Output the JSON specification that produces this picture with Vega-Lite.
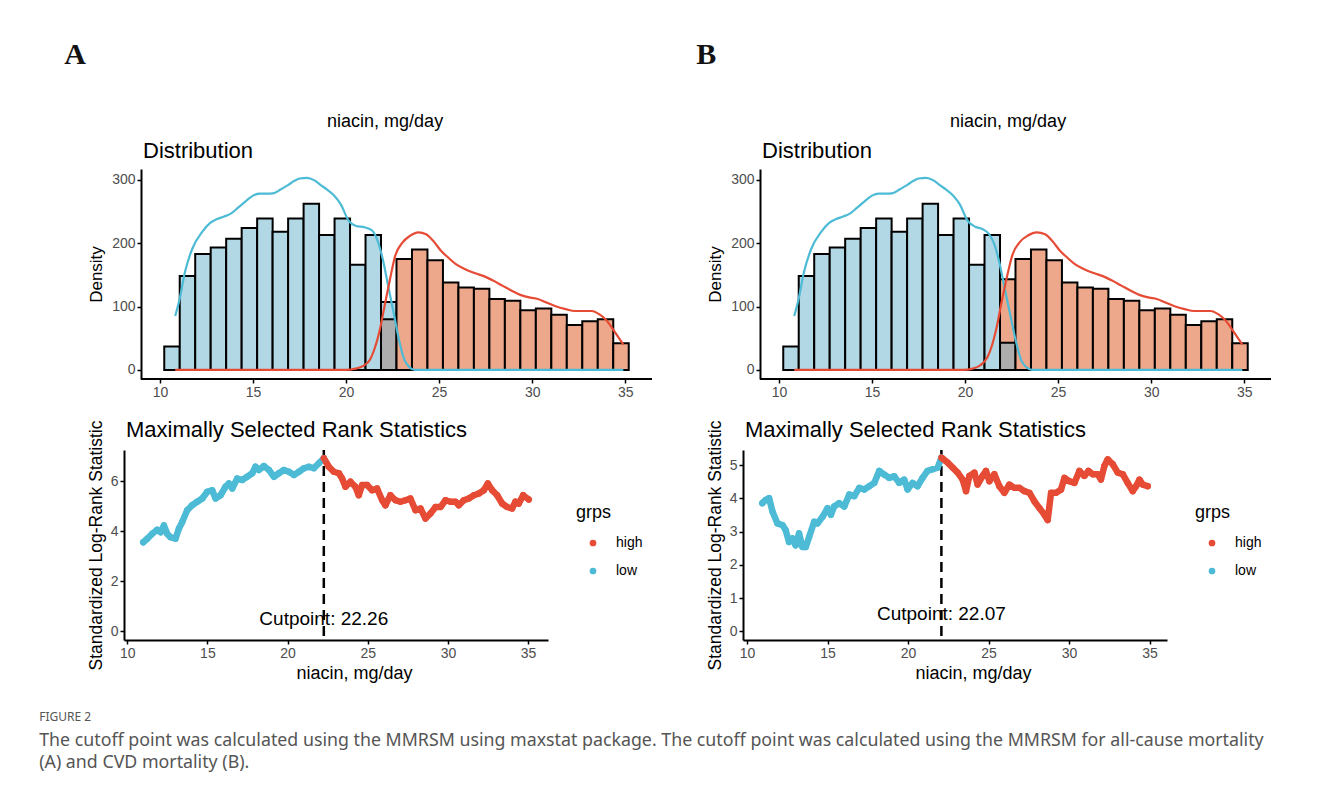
{
  "$schema": "https://vega.github.io/schema/vega-lite/v6.json",
  "background": "white",
  "padding": {"left": 39, "top": 40, "right": 10, "bottom": 10},
  "config": {
    "font": "Liberation Sans",
    "view": {"stroke": null},
    "axis": {"grid": false, "domainColor": "black", "domainWidth": 2, "tickColor": "black", "tickWidth": 1.5, "tickSize": 4, "labelColor": "#4D4D4D", "labelFontSize": 14, "labelFont": "Liberation Sans", "titleFont": "Liberation Sans", "titleFontWeight": "normal", "titleColor": "black", "titleFontSize": 17, "labelPadding": 2, "labelOverlap": false},
    "title": {"font": "Liberation Sans", "fontWeight": "normal", "color": "black"},
    "legend": {"titleFont": "Liberation Sans", "labelFont": "Liberation Sans"}
  },
  "datasets": {
    "histA": [
      {"x0": 10.23, "x1": 11.062, "n": 37, "part": "low"},
      {"x0": 11.062, "x1": 11.894, "n": 148, "part": "low"},
      {"x0": 11.894, "x1": 12.726, "n": 183, "part": "low"},
      {"x0": 12.726, "x1": 13.558, "n": 193, "part": "low"},
      {"x0": 13.558, "x1": 14.39, "n": 207, "part": "low"},
      {"x0": 14.39, "x1": 15.222, "n": 224, "part": "low"},
      {"x0": 15.222, "x1": 16.054, "n": 239, "part": "low"},
      {"x0": 16.054, "x1": 16.886, "n": 218, "part": "low"},
      {"x0": 16.886, "x1": 17.718, "n": 239, "part": "low"},
      {"x0": 17.718, "x1": 18.55, "n": 262, "part": "low"},
      {"x0": 18.55, "x1": 19.382, "n": 213, "part": "low"},
      {"x0": 19.382, "x1": 20.214, "n": 239, "part": "low"},
      {"x0": 20.214, "x1": 21.046, "n": 166, "part": "low"},
      {"x0": 21.046, "x1": 21.878, "n": 213, "part": "low"},
      {"x0": 21.878, "x1": 22.71, "n": 107, "part": "low"},
      {"x0": 21.878, "x1": 22.71, "n": 80, "part": "both"},
      {"x0": 22.71, "x1": 23.542, "n": 175, "part": "high"},
      {"x0": 23.542, "x1": 24.374, "n": 190, "part": "high"},
      {"x0": 24.374, "x1": 25.206, "n": 173, "part": "high"},
      {"x0": 25.206, "x1": 26.038, "n": 138, "part": "high"},
      {"x0": 26.038, "x1": 26.87, "n": 130, "part": "high"},
      {"x0": 26.87, "x1": 27.702, "n": 128, "part": "high"},
      {"x0": 27.702, "x1": 28.534, "n": 112, "part": "high"},
      {"x0": 28.534, "x1": 29.366, "n": 109, "part": "high"},
      {"x0": 29.366, "x1": 30.198, "n": 94, "part": "high"},
      {"x0": 30.198, "x1": 31.03, "n": 97, "part": "high"},
      {"x0": 31.03, "x1": 31.862, "n": 87, "part": "high"},
      {"x0": 31.862, "x1": 32.694, "n": 71, "part": "high"},
      {"x0": 32.694, "x1": 33.526, "n": 77, "part": "high"},
      {"x0": 33.526, "x1": 34.358, "n": 80, "part": "high"},
      {"x0": 34.358, "x1": 35.19, "n": 42, "part": "high"}
    ],
    "histB": [
      {"x0": 10.23, "x1": 11.062, "n": 37, "part": "low"},
      {"x0": 11.062, "x1": 11.894, "n": 148, "part": "low"},
      {"x0": 11.894, "x1": 12.726, "n": 183, "part": "low"},
      {"x0": 12.726, "x1": 13.558, "n": 193, "part": "low"},
      {"x0": 13.558, "x1": 14.39, "n": 207, "part": "low"},
      {"x0": 14.39, "x1": 15.222, "n": 224, "part": "low"},
      {"x0": 15.222, "x1": 16.054, "n": 239, "part": "low"},
      {"x0": 16.054, "x1": 16.886, "n": 218, "part": "low"},
      {"x0": 16.886, "x1": 17.718, "n": 239, "part": "low"},
      {"x0": 17.718, "x1": 18.55, "n": 262, "part": "low"},
      {"x0": 18.55, "x1": 19.382, "n": 213, "part": "low"},
      {"x0": 19.382, "x1": 20.214, "n": 239, "part": "low"},
      {"x0": 20.214, "x1": 21.046, "n": 166, "part": "low"},
      {"x0": 21.046, "x1": 21.878, "n": 213, "part": "low"},
      {"x0": 21.878, "x1": 22.71, "n": 143, "part": "high"},
      {"x0": 21.878, "x1": 22.71, "n": 43, "part": "both"},
      {"x0": 22.71, "x1": 23.542, "n": 175, "part": "high"},
      {"x0": 23.542, "x1": 24.374, "n": 190, "part": "high"},
      {"x0": 24.374, "x1": 25.206, "n": 173, "part": "high"},
      {"x0": 25.206, "x1": 26.038, "n": 138, "part": "high"},
      {"x0": 26.038, "x1": 26.87, "n": 130, "part": "high"},
      {"x0": 26.87, "x1": 27.702, "n": 128, "part": "high"},
      {"x0": 27.702, "x1": 28.534, "n": 112, "part": "high"},
      {"x0": 28.534, "x1": 29.366, "n": 109, "part": "high"},
      {"x0": 29.366, "x1": 30.198, "n": 94, "part": "high"},
      {"x0": 30.198, "x1": 31.03, "n": 97, "part": "high"},
      {"x0": 31.03, "x1": 31.862, "n": 87, "part": "high"},
      {"x0": 31.862, "x1": 32.694, "n": 71, "part": "high"},
      {"x0": 32.694, "x1": 33.526, "n": 77, "part": "high"},
      {"x0": 33.526, "x1": 34.358, "n": 80, "part": "high"},
      {"x0": 34.358, "x1": 35.19, "n": 42, "part": "high"}
    ],
    "densA": [
      {"x": 10.82, "d": 85, "grp": "low"}, {"x": 11.05, "d": 111, "grp": "low"}, {"x": 11.34, "d": 154, "grp": "low"}, {"x": 11.72, "d": 190, "grp": "low"}, {"x": 12.3, "d": 219, "grp": "low"}, {"x": 12.7, "d": 232, "grp": "low"}, {"x": 13.07, "d": 238, "grp": "low"}, {"x": 13.45, "d": 242, "grp": "low"}, {"x": 13.83, "d": 247, "grp": "low"}, {"x": 14.2, "d": 256, "grp": "low"}, {"x": 14.6, "d": 266, "grp": "low"}, {"x": 15.0, "d": 275, "grp": "low"}, {"x": 15.36, "d": 278, "grp": "low"}, {"x": 15.75, "d": 278, "grp": "low"}, {"x": 16.13, "d": 279, "grp": "low"}, {"x": 16.5, "d": 285, "grp": "low"}, {"x": 16.9, "d": 292, "grp": "low"}, {"x": 17.2, "d": 298, "grp": "low"}, {"x": 17.5, "d": 302, "grp": "low"}, {"x": 17.9, "d": 303, "grp": "low"}, {"x": 18.3, "d": 299, "grp": "low"}, {"x": 18.62, "d": 292, "grp": "low"}, {"x": 19.0, "d": 284, "grp": "low"}, {"x": 19.39, "d": 274, "grp": "low"}, {"x": 19.7, "d": 262, "grp": "low"}, {"x": 20.15, "d": 235, "grp": "low"}, {"x": 20.54, "d": 227, "grp": "low"}, {"x": 21.0, "d": 225, "grp": "low"}, {"x": 21.4, "d": 220, "grp": "low"}, {"x": 21.69, "d": 204, "grp": "low"}, {"x": 21.97, "d": 175, "grp": "low"}, {"x": 22.26, "d": 133, "grp": "low"}, {"x": 22.55, "d": 91, "grp": "low"}, {"x": 22.84, "d": 48, "grp": "low"}, {"x": 23.12, "d": 17, "grp": "low"}, {"x": 23.41, "d": 4, "grp": "low"}, {"x": 23.7, "d": 0, "grp": "low"}, {"x": 34.9, "d": 0, "grp": "low"},
      {"x": 10.82, "d": 0, "grp": "high"}, {"x": 20.0, "d": 0, "grp": "high"}, {"x": 20.5, "d": 2, "grp": "high"}, {"x": 20.9, "d": 6, "grp": "high"}, {"x": 21.3, "d": 17, "grp": "high"}, {"x": 21.55, "d": 35, "grp": "high"}, {"x": 21.78, "d": 59, "grp": "high"}, {"x": 22.07, "d": 101, "grp": "high"}, {"x": 22.36, "d": 143, "grp": "high"}, {"x": 22.64, "d": 180, "grp": "high"}, {"x": 23.03, "d": 201, "grp": "high"}, {"x": 23.41, "d": 211, "grp": "high"}, {"x": 23.89, "d": 217, "grp": "high"}, {"x": 24.3, "d": 214, "grp": "high"}, {"x": 24.7, "d": 203, "grp": "high"}, {"x": 25.1, "d": 188, "grp": "high"}, {"x": 25.5, "d": 177, "grp": "high"}, {"x": 25.9, "d": 167, "grp": "high"}, {"x": 26.4, "d": 159, "grp": "high"}, {"x": 26.9, "d": 153, "grp": "high"}, {"x": 27.4, "d": 148, "grp": "high"}, {"x": 27.9, "d": 141, "grp": "high"}, {"x": 28.4, "d": 133, "grp": "high"}, {"x": 28.9, "d": 125, "grp": "high"}, {"x": 29.4, "d": 118, "grp": "high"}, {"x": 29.9, "d": 114, "grp": "high"}, {"x": 30.3, "d": 112, "grp": "high"}, {"x": 30.8, "d": 106, "grp": "high"}, {"x": 31.3, "d": 100, "grp": "high"}, {"x": 31.8, "d": 96, "grp": "high"}, {"x": 32.3, "d": 93, "grp": "high"}, {"x": 32.8, "d": 93, "grp": "high"}, {"x": 33.2, "d": 93, "grp": "high"}, {"x": 33.6, "d": 88, "grp": "high"}, {"x": 34.0, "d": 78, "grp": "high"}, {"x": 34.3, "d": 66, "grp": "high"}, {"x": 34.6, "d": 53, "grp": "high"}, {"x": 34.9, "d": 40, "grp": "high"}
    ],
    "densB": [
      {"x": 10.82, "d": 85, "grp": "low"}, {"x": 11.05, "d": 111, "grp": "low"}, {"x": 11.34, "d": 154, "grp": "low"}, {"x": 11.72, "d": 190, "grp": "low"}, {"x": 12.3, "d": 219, "grp": "low"}, {"x": 12.7, "d": 232, "grp": "low"}, {"x": 13.07, "d": 238, "grp": "low"}, {"x": 13.45, "d": 242, "grp": "low"}, {"x": 13.83, "d": 247, "grp": "low"}, {"x": 14.2, "d": 256, "grp": "low"}, {"x": 14.6, "d": 266, "grp": "low"}, {"x": 15.0, "d": 275, "grp": "low"}, {"x": 15.36, "d": 278, "grp": "low"}, {"x": 15.75, "d": 278, "grp": "low"}, {"x": 16.13, "d": 279, "grp": "low"}, {"x": 16.5, "d": 285, "grp": "low"}, {"x": 16.9, "d": 292, "grp": "low"}, {"x": 17.2, "d": 298, "grp": "low"}, {"x": 17.5, "d": 302, "grp": "low"}, {"x": 17.9, "d": 303, "grp": "low"}, {"x": 18.3, "d": 299, "grp": "low"}, {"x": 18.62, "d": 292, "grp": "low"}, {"x": 19.0, "d": 284, "grp": "low"}, {"x": 19.39, "d": 274, "grp": "low"}, {"x": 19.7, "d": 262, "grp": "low"}, {"x": 20.15, "d": 235, "grp": "low"}, {"x": 20.54, "d": 226, "grp": "low"}, {"x": 20.95, "d": 222, "grp": "low"}, {"x": 21.3, "d": 214, "grp": "low"}, {"x": 21.59, "d": 197, "grp": "low"}, {"x": 21.87, "d": 166, "grp": "low"}, {"x": 22.16, "d": 124, "grp": "low"}, {"x": 22.45, "d": 84, "grp": "low"}, {"x": 22.74, "d": 44, "grp": "low"}, {"x": 23.02, "d": 15, "grp": "low"}, {"x": 23.31, "d": 4, "grp": "low"}, {"x": 23.6, "d": 0, "grp": "low"}, {"x": 34.9, "d": 0, "grp": "low"},
      {"x": 10.82, "d": 0, "grp": "high"}, {"x": 19.9, "d": 0, "grp": "high"}, {"x": 20.4, "d": 2, "grp": "high"}, {"x": 20.8, "d": 7, "grp": "high"}, {"x": 21.2, "d": 20, "grp": "high"}, {"x": 21.45, "d": 39, "grp": "high"}, {"x": 21.68, "d": 65, "grp": "high"}, {"x": 21.97, "d": 108, "grp": "high"}, {"x": 22.26, "d": 148, "grp": "high"}, {"x": 22.55, "d": 182, "grp": "high"}, {"x": 22.95, "d": 202, "grp": "high"}, {"x": 23.38, "d": 212, "grp": "high"}, {"x": 23.85, "d": 217, "grp": "high"}, {"x": 24.3, "d": 214, "grp": "high"}, {"x": 24.7, "d": 203, "grp": "high"}, {"x": 25.1, "d": 188, "grp": "high"}, {"x": 25.5, "d": 177, "grp": "high"}, {"x": 25.9, "d": 167, "grp": "high"}, {"x": 26.4, "d": 159, "grp": "high"}, {"x": 26.9, "d": 153, "grp": "high"}, {"x": 27.4, "d": 148, "grp": "high"}, {"x": 27.9, "d": 141, "grp": "high"}, {"x": 28.4, "d": 133, "grp": "high"}, {"x": 28.9, "d": 125, "grp": "high"}, {"x": 29.4, "d": 118, "grp": "high"}, {"x": 29.9, "d": 114, "grp": "high"}, {"x": 30.3, "d": 112, "grp": "high"}, {"x": 30.8, "d": 106, "grp": "high"}, {"x": 31.3, "d": 100, "grp": "high"}, {"x": 31.8, "d": 96, "grp": "high"}, {"x": 32.3, "d": 93, "grp": "high"}, {"x": 32.8, "d": 93, "grp": "high"}, {"x": 33.2, "d": 93, "grp": "high"}, {"x": 33.6, "d": 88, "grp": "high"}, {"x": 34.0, "d": 78, "grp": "high"}, {"x": 34.3, "d": 66, "grp": "high"}, {"x": 34.6, "d": 53, "grp": "high"}, {"x": 34.9, "d": 40, "grp": "high"}
    ],
    "lineA": [
      {"x": 11.0, "y": 3.56, "grps": "low"}, {"x": 11.25, "y": 3.7, "grps": "low"}, {"x": 11.56, "y": 3.9, "grps": "low"}, {"x": 11.87, "y": 4.06, "grps": "low"}, {"x": 12.08, "y": 3.96, "grps": "low"}, {"x": 12.29, "y": 4.23, "grps": "low"}, {"x": 12.49, "y": 3.9, "grps": "low"}, {"x": 12.7, "y": 3.76, "grps": "low"}, {"x": 13.01, "y": 3.7, "grps": "low"}, {"x": 13.22, "y": 4.1, "grps": "low"}, {"x": 13.43, "y": 4.37, "grps": "low"}, {"x": 13.74, "y": 4.84, "grps": "low"}, {"x": 14.05, "y": 5.04, "grps": "low"}, {"x": 14.37, "y": 5.18, "grps": "low"}, {"x": 14.68, "y": 5.31, "grps": "low"}, {"x": 14.99, "y": 5.58, "grps": "low"}, {"x": 15.3, "y": 5.64, "grps": "low"}, {"x": 15.51, "y": 5.31, "grps": "low"}, {"x": 15.82, "y": 5.44, "grps": "low"}, {"x": 16.13, "y": 5.78, "grps": "low"}, {"x": 16.34, "y": 5.91, "grps": "low"}, {"x": 16.55, "y": 5.71, "grps": "low"}, {"x": 16.86, "y": 6.11, "grps": "low"}, {"x": 17.17, "y": 6.05, "grps": "low"}, {"x": 17.48, "y": 6.18, "grps": "low"}, {"x": 17.8, "y": 6.32, "grps": "low"}, {"x": 18.0, "y": 6.58, "grps": "low"}, {"x": 18.21, "y": 6.45, "grps": "low"}, {"x": 18.52, "y": 6.61, "grps": "low"}, {"x": 18.84, "y": 6.45, "grps": "low"}, {"x": 19.15, "y": 6.18, "grps": "low"}, {"x": 19.46, "y": 6.32, "grps": "low"}, {"x": 19.77, "y": 6.45, "grps": "low"}, {"x": 20.08, "y": 6.38, "grps": "low"}, {"x": 20.4, "y": 6.25, "grps": "low"}, {"x": 20.71, "y": 6.38, "grps": "low"}, {"x": 21.02, "y": 6.52, "grps": "low"}, {"x": 21.33, "y": 6.58, "grps": "low"}, {"x": 21.64, "y": 6.52, "grps": "low"}, {"x": 21.95, "y": 6.72, "grps": "low"}, {"x": 22.26, "y": 6.92, "grps": "low"},
      {"x": 22.26, "y": 6.92, "grps": "high"}, {"x": 22.57, "y": 6.58, "grps": "high"}, {"x": 22.88, "y": 6.38, "grps": "high"}, {"x": 23.2, "y": 6.32, "grps": "high"}, {"x": 23.4, "y": 6.11, "grps": "high"}, {"x": 23.61, "y": 5.78, "grps": "high"}, {"x": 23.92, "y": 5.98, "grps": "high"}, {"x": 24.23, "y": 5.78, "grps": "high"}, {"x": 24.44, "y": 5.44, "grps": "high"}, {"x": 24.65, "y": 5.85, "grps": "high"}, {"x": 24.96, "y": 5.85, "grps": "high"}, {"x": 25.27, "y": 5.64, "grps": "high"}, {"x": 25.58, "y": 5.71, "grps": "high"}, {"x": 25.9, "y": 5.24, "grps": "high"}, {"x": 26.1, "y": 5.04, "grps": "high"}, {"x": 26.41, "y": 5.44, "grps": "high"}, {"x": 26.73, "y": 5.24, "grps": "high"}, {"x": 27.04, "y": 5.18, "grps": "high"}, {"x": 27.35, "y": 5.24, "grps": "high"}, {"x": 27.66, "y": 5.31, "grps": "high"}, {"x": 27.98, "y": 4.84, "grps": "high"}, {"x": 28.29, "y": 4.91, "grps": "high"}, {"x": 28.6, "y": 4.51, "grps": "high"}, {"x": 28.91, "y": 4.71, "grps": "high"}, {"x": 29.23, "y": 4.97, "grps": "high"}, {"x": 29.54, "y": 4.97, "grps": "high"}, {"x": 29.85, "y": 5.24, "grps": "high"}, {"x": 30.16, "y": 5.18, "grps": "high"}, {"x": 30.47, "y": 5.18, "grps": "high"}, {"x": 30.68, "y": 5.04, "grps": "high"}, {"x": 30.99, "y": 5.24, "grps": "high"}, {"x": 31.3, "y": 5.31, "grps": "high"}, {"x": 31.62, "y": 5.44, "grps": "high"}, {"x": 31.93, "y": 5.51, "grps": "high"}, {"x": 32.24, "y": 5.64, "grps": "high"}, {"x": 32.49, "y": 5.91, "grps": "high"}, {"x": 32.76, "y": 5.64, "grps": "high"}, {"x": 33.07, "y": 5.44, "grps": "high"}, {"x": 33.38, "y": 5.11, "grps": "high"}, {"x": 33.69, "y": 4.97, "grps": "high"}, {"x": 34.0, "y": 4.91, "grps": "high"}, {"x": 34.21, "y": 5.18, "grps": "high"}, {"x": 34.42, "y": 5.11, "grps": "high"}, {"x": 34.69, "y": 5.44, "grps": "high"}, {"x": 35.04, "y": 5.27, "grps": "high"}
    ],
    "lineB": [
      {"x": 10.95, "y": 3.86, "grps": "low"}, {"x": 11.16, "y": 3.96, "grps": "low"}, {"x": 11.37, "y": 4.01, "grps": "low"}, {"x": 11.58, "y": 3.61, "grps": "low"}, {"x": 11.89, "y": 3.25, "grps": "low"}, {"x": 12.2, "y": 3.2, "grps": "low"}, {"x": 12.4, "y": 3.05, "grps": "low"}, {"x": 12.61, "y": 2.69, "grps": "low"}, {"x": 12.82, "y": 2.8, "grps": "low"}, {"x": 13.02, "y": 2.59, "grps": "low"}, {"x": 13.23, "y": 2.95, "grps": "low"}, {"x": 13.44, "y": 2.54, "grps": "low"}, {"x": 13.65, "y": 2.54, "grps": "low"}, {"x": 13.86, "y": 2.85, "grps": "low"}, {"x": 14.17, "y": 3.3, "grps": "low"}, {"x": 14.37, "y": 3.25, "grps": "low"}, {"x": 14.69, "y": 3.45, "grps": "low"}, {"x": 15.0, "y": 3.71, "grps": "low"}, {"x": 15.21, "y": 3.51, "grps": "low"}, {"x": 15.41, "y": 3.76, "grps": "low"}, {"x": 15.72, "y": 3.86, "grps": "low"}, {"x": 16.04, "y": 3.76, "grps": "low"}, {"x": 16.35, "y": 4.12, "grps": "low"}, {"x": 16.66, "y": 4.07, "grps": "low"}, {"x": 16.97, "y": 4.32, "grps": "low"}, {"x": 17.28, "y": 4.27, "grps": "low"}, {"x": 17.59, "y": 4.37, "grps": "low"}, {"x": 17.9, "y": 4.47, "grps": "low"}, {"x": 18.21, "y": 4.83, "grps": "low"}, {"x": 18.52, "y": 4.72, "grps": "low"}, {"x": 18.83, "y": 4.62, "grps": "low"}, {"x": 19.14, "y": 4.67, "grps": "low"}, {"x": 19.45, "y": 4.47, "grps": "low"}, {"x": 19.76, "y": 4.57, "grps": "low"}, {"x": 19.97, "y": 4.27, "grps": "low"}, {"x": 20.28, "y": 4.47, "grps": "low"}, {"x": 20.59, "y": 4.37, "grps": "low"}, {"x": 20.9, "y": 4.62, "grps": "low"}, {"x": 21.21, "y": 4.83, "grps": "low"}, {"x": 21.53, "y": 4.88, "grps": "low"}, {"x": 21.84, "y": 4.93, "grps": "low"}, {"x": 22.07, "y": 5.23, "grps": "low"},
      {"x": 22.07, "y": 5.23, "grps": "high"}, {"x": 22.15, "y": 5.2, "grps": "high"}, {"x": 22.46, "y": 5.08, "grps": "high"}, {"x": 22.77, "y": 4.93, "grps": "high"}, {"x": 23.08, "y": 4.78, "grps": "high"}, {"x": 23.39, "y": 4.57, "grps": "high"}, {"x": 23.6, "y": 4.22, "grps": "high"}, {"x": 23.81, "y": 4.68, "grps": "high"}, {"x": 24.12, "y": 4.78, "grps": "high"}, {"x": 24.32, "y": 4.42, "grps": "high"}, {"x": 24.63, "y": 4.68, "grps": "high"}, {"x": 24.84, "y": 4.83, "grps": "high"}, {"x": 25.05, "y": 4.52, "grps": "high"}, {"x": 25.36, "y": 4.73, "grps": "high"}, {"x": 25.67, "y": 4.37, "grps": "high"}, {"x": 25.98, "y": 4.17, "grps": "high"}, {"x": 26.29, "y": 4.42, "grps": "high"}, {"x": 26.6, "y": 4.32, "grps": "high"}, {"x": 26.92, "y": 4.32, "grps": "high"}, {"x": 27.23, "y": 4.22, "grps": "high"}, {"x": 27.54, "y": 4.17, "grps": "high"}, {"x": 27.85, "y": 3.91, "grps": "high"}, {"x": 28.16, "y": 3.71, "grps": "high"}, {"x": 28.47, "y": 3.51, "grps": "high"}, {"x": 28.67, "y": 3.35, "grps": "high"}, {"x": 28.88, "y": 4.17, "grps": "high"}, {"x": 29.19, "y": 4.17, "grps": "high"}, {"x": 29.5, "y": 4.27, "grps": "high"}, {"x": 29.71, "y": 4.62, "grps": "high"}, {"x": 30.02, "y": 4.52, "grps": "high"}, {"x": 30.33, "y": 4.47, "grps": "high"}, {"x": 30.64, "y": 4.83, "grps": "high"}, {"x": 30.95, "y": 4.68, "grps": "high"}, {"x": 31.2, "y": 4.83, "grps": "high"}, {"x": 31.47, "y": 4.73, "grps": "high"}, {"x": 31.78, "y": 4.73, "grps": "high"}, {"x": 31.98, "y": 4.57, "grps": "high"}, {"x": 32.19, "y": 4.98, "grps": "high"}, {"x": 32.4, "y": 5.18, "grps": "high"}, {"x": 32.71, "y": 5.03, "grps": "high"}, {"x": 33.02, "y": 4.78, "grps": "high"}, {"x": 33.33, "y": 4.73, "grps": "high"}, {"x": 33.64, "y": 4.47, "grps": "high"}, {"x": 33.95, "y": 4.22, "grps": "high"}, {"x": 34.16, "y": 4.37, "grps": "high"}, {"x": 34.37, "y": 4.57, "grps": "high"}, {"x": 34.57, "y": 4.42, "grps": "high"}, {"x": 34.88, "y": 4.37, "grps": "high"}
    ],
    "cutA": [{"x": 22.26, "y": 0.5, "label": "Cutpoint: 22.26"}],
    "cutB": [{"x": 22.07, "y": 0.52, "label": "Cutpoint: 22.07"}],
    "axisline": [{"from": 8.98, "to": 36.44, "at": -14.3}]
  },
  "title": {
    "text": "FIGURE 2",
    "subtitle": ["The cutoff point was calculated using the MMRSM using maxstat package. The cutoff point was calculated using the MMRSM for all-cause mortality", "(A) and CVD mortality (B)."],
    "orient": "bottom", "anchor": "start", "frame": "bounds", "dx": -25, "offset": 30,
    "font": "Noto Sans", "fontSize": 12, "color": "#555555", "fontWeight": "normal",
    "subtitleFont": "Noto Sans", "subtitleFontSize": 17.8, "subtitleColor": "#555555", "subtitlePadding": 8, "subtitleLineHeight": 22
  },
  "spacing": 43,
  "resolve": {"scale": {"fill": "independent", "stroke": "independent"}, "legend": {"fill": "independent", "stroke": "independent"}},
  "hconcat": [
    {
      "title": {"text": "A", "anchor": "start", "font": "Liberation Serif", "fontSize": 30, "fontWeight": "bold", "color": "#111111", "dx": -23, "offset": 43},
      "resolve": {"scale": {"fill": "independent", "stroke": "independent"}, "legend": {"fill": "independent", "stroke": "independent"}},
      "vconcat": [
        {
          "title": {"text": "niacin, mg/day", "anchor": "middle", "fontSize": 18, "offset": 9, "dx": 15},
          "spacing": 20,
          "resolve": {"scale": {"fill": "independent", "stroke": "independent"}, "legend": {"fill": "independent", "stroke": "independent"}},
          "vconcat": [
            {
              "width": 528, "height": 210,
              "title": {"text": "Distribution", "anchor": "start", "frame": "group", "dx": 19, "fontSize": 22, "offset": 6},
              "resolve": {"scale": {"fill": "independent", "stroke": "independent"}},
              "layer": [
                {"data": {"name": "histA"}, "mark": {"type": "bar", "stroke": "black", "strokeWidth": 2},
                  "encoding": {
                    "x": {"field": "x0", "type": "quantitative", "scale": {"domain": [8.067, 36.44], "nice": false, "zero": false}, "axis": {"title": null, "values": [10, 15, 20, 25, 30, 35], "domain": false}},
                    "x2": {"field": "x1"},
                    "y": {"field": "n", "type": "quantitative", "scale": {"domain": [-14.3, 317], "nice": false, "zero": false}, "axis": {"title": "Density", "values": [0, 100, 200, 300], "titlePadding": 6, "offset": -17}},
                    "y2": {"datum": 0},
                    "fill": {"field": "part", "type": "nominal", "scale": {"domain": ["low", "high", "both"], "range": ["#B3D8E5", "#EDA78B", "#ADADAD"]}, "legend": null}
                  }},
                {"data": {"name": "densA"}, "mark": {"type": "line", "strokeWidth": 2.2, "interpolate": "monotone"},
                  "encoding": {
                    "x": {"field": "x", "type": "quantitative", "axis": {"title": null, "values": [10, 15, 20, 25, 30, 35], "domain": false}},
                    "y": {"field": "d", "type": "quantitative", "axis": {"title": "Density", "values": [0, 100, 200, 300], "titlePadding": 6, "offset": -17}},
                    "stroke": {"field": "grp", "type": "nominal", "scale": {"domain": ["high", "low"], "range": ["#E64B35", "#4DBBD5"]}, "legend": null}
                  }},
                {"data": {"name": "axisline"}, "mark": {"type": "rule", "color": "black", "strokeWidth": 2},
                  "encoding": {
                    "x": {"field": "from", "type": "quantitative", "axis": {"title": null, "values": [10, 15, 20, 25, 30, 35], "domain": false}},
                    "x2": {"field": "to"},
                    "y": {"field": "at", "type": "quantitative", "axis": {"title": "Density", "values": [0, 100, 200, 300], "titlePadding": 6, "offset": -17}}
                  }}
              ]
            },
            {
              "width": 424, "height": 190,
              "title": {"text": "Maximally Selected Rank Statistics", "anchor": "start", "frame": "group", "dx": 2, "fontSize": 22, "offset": -22},
              "resolve": {"scale": {"fill": "independent", "stroke": "independent"}},
              "layer": [
                {"data": {"name": "cutA"}, "mark": {"type": "rule", "strokeDash": [10, 6], "strokeWidth": 2.5, "color": "black"},
                  "encoding": {"x": {"field": "x", "type": "quantitative", "scale": {"domain": [9.8, 36.24], "nice": false, "zero": false}, "axis": {"title": "niacin, mg/day", "values": [10, 15, 20, 25, 30, 35], "titleFontSize": 18, "titlePadding": 4, "titleX": 230}}}},
                {"data": {"name": "lineA"}, "mark": {"type": "line", "strokeWidth": 6.5, "strokeJoin": "round", "strokeCap": "round"},
                  "encoding": {
                    "x": {"field": "x", "type": "quantitative", "axis": {"title": "niacin, mg/day", "values": [10, 15, 20, 25, 30, 35], "titleFontSize": 18, "titlePadding": 4, "titleX": 230}},
                    "y": {"field": "y", "type": "quantitative", "scale": {"domain": [-0.35, 7.25], "nice": false, "zero": false}, "axis": {"title": "Standardized Log-Rank Statistic", "values": [0, 2, 4, 6], "titleFontSize": 17.5, "titlePadding": 5}},
                    "stroke": {"field": "grps", "type": "nominal", "scale": {"domain": ["high", "low"], "range": ["#E64B35", "#4DBBD5"]}, "legend": null}
                  }},
                {"data": {"name": "lineA"}, "mark": {"type": "circle", "size": 40, "opacity": 1},
                  "encoding": {
                    "x": {"field": "x", "type": "quantitative", "axis": {"title": "niacin, mg/day", "values": [10, 15, 20, 25, 30, 35], "titleFontSize": 18, "titlePadding": 4, "titleX": 230}},
                    "y": {"field": "y", "type": "quantitative", "axis": {"title": "Standardized Log-Rank Statistic", "values": [0, 2, 4, 6], "titleFontSize": 17.5, "titlePadding": 5}},
                    "fill": {"field": "grps", "type": "nominal", "scale": {"domain": ["high", "low"], "range": ["#E64B35", "#4DBBD5"]},
                      "legend": {"title": "grps", "orient": "none", "legendX": 452, "legendY": 54, "titleFontSize": 18, "titleFontWeight": "normal", "titleColor": "black", "labelFontSize": 14, "labelColor": "black", "symbolSize": 45, "symbolType": "circle", "symbolOffset": 10, "labelOffset": 16, "rowPadding": 14, "titlePadding": 14}}
                  }},
                {"data": {"name": "cutA"}, "mark": {"type": "text", "fontSize": 19, "align": "center", "baseline": "middle", "color": "black"},
                  "encoding": {
                    "x": {"field": "x", "type": "quantitative", "axis": {"title": "niacin, mg/day", "values": [10, 15, 20, 25, 30, 35], "titleFontSize": 18, "titlePadding": 4, "titleX": 230}},
                    "y": {"field": "y", "type": "quantitative", "axis": {"title": "Standardized Log-Rank Statistic", "values": [0, 2, 4, 6], "titleFontSize": 17.5, "titlePadding": 5}},
                    "text": {"field": "label"}}}
              ]
            }
          ]
        }
      ]
    },
    {
      "title": {"text": "B", "anchor": "start", "font": "Liberation Serif", "fontSize": 30, "fontWeight": "bold", "color": "#111111", "dx": -10, "offset": 43},
      "resolve": {"scale": {"fill": "independent", "stroke": "independent"}, "legend": {"fill": "independent", "stroke": "independent"}},
      "vconcat": [
        {
          "title": {"text": "niacin, mg/day", "anchor": "middle", "fontSize": 18, "offset": 9, "dx": 19},
          "spacing": 20,
          "resolve": {"scale": {"fill": "independent", "stroke": "independent"}, "legend": {"fill": "independent", "stroke": "independent"}},
          "vconcat": [
            {
              "width": 528, "height": 210,
              "title": {"text": "Distribution", "anchor": "start", "frame": "group", "dx": 19, "fontSize": 22, "offset": 6},
              "resolve": {"scale": {"fill": "independent", "stroke": "independent"}},
              "layer": [
                {"data": {"name": "histB"}, "mark": {"type": "bar", "stroke": "black", "strokeWidth": 2},
                  "encoding": {
                    "x": {"field": "x0", "type": "quantitative", "scale": {"domain": [8.067, 36.44], "nice": false, "zero": false}, "axis": {"title": null, "values": [10, 15, 20, 25, 30, 35], "domain": false}},
                    "x2": {"field": "x1"},
                    "y": {"field": "n", "type": "quantitative", "scale": {"domain": [-14.3, 317], "nice": false, "zero": false}, "axis": {"title": "Density", "values": [0, 100, 200, 300], "titlePadding": 6, "offset": -17}},
                    "y2": {"datum": 0},
                    "fill": {"field": "part", "type": "nominal", "scale": {"domain": ["low", "high", "both"], "range": ["#B3D8E5", "#EDA78B", "#ADADAD"]}, "legend": null}
                  }},
                {"data": {"name": "densB"}, "mark": {"type": "line", "strokeWidth": 2.2, "interpolate": "monotone"},
                  "encoding": {
                    "x": {"field": "x", "type": "quantitative", "axis": {"title": null, "values": [10, 15, 20, 25, 30, 35], "domain": false}},
                    "y": {"field": "d", "type": "quantitative", "axis": {"title": "Density", "values": [0, 100, 200, 300], "titlePadding": 6, "offset": -17}},
                    "stroke": {"field": "grp", "type": "nominal", "scale": {"domain": ["high", "low"], "range": ["#E64B35", "#4DBBD5"]}, "legend": null}
                  }},
                {"data": {"name": "axisline"}, "mark": {"type": "rule", "color": "black", "strokeWidth": 2},
                  "encoding": {
                    "x": {"field": "from", "type": "quantitative", "axis": {"title": null, "values": [10, 15, 20, 25, 30, 35], "domain": false}},
                    "x2": {"field": "to"},
                    "y": {"field": "at", "type": "quantitative", "axis": {"title": "Density", "values": [0, 100, 200, 300], "titlePadding": 6, "offset": -17}}
                  }}
              ]
            },
            {
              "width": 424, "height": 190,
              "title": {"text": "Maximally Selected Rank Statistics", "anchor": "start", "frame": "group", "dx": 2, "fontSize": 22, "offset": -22},
              "resolve": {"scale": {"fill": "independent", "stroke": "independent"}},
              "layer": [
                {"data": {"name": "cutB"}, "mark": {"type": "rule", "strokeDash": [10, 6], "strokeWidth": 2.5, "color": "black"},
                  "encoding": {"x": {"field": "x", "type": "quantitative", "scale": {"domain": [9.75, 36.08], "nice": false, "zero": false}, "axis": {"title": "niacin, mg/day", "values": [10, 15, 20, 25, 30, 35], "titleFontSize": 18, "titlePadding": 4, "titleX": 230}}}},
                {"data": {"name": "lineB"}, "mark": {"type": "line", "strokeWidth": 6.5, "strokeJoin": "round", "strokeCap": "round"},
                  "encoding": {
                    "x": {"field": "x", "type": "quantitative", "axis": {"title": "niacin, mg/day", "values": [10, 15, 20, 25, 30, 35], "titleFontSize": 18, "titlePadding": 4, "titleX": 230}},
                    "y": {"field": "y", "type": "quantitative", "scale": {"domain": [-0.26, 5.46], "nice": false, "zero": false}, "axis": {"title": "Standardized Log-Rank Statistic", "values": [0, 1, 2, 3, 4, 5], "titleFontSize": 17.5, "titlePadding": 5}},
                    "stroke": {"field": "grps", "type": "nominal", "scale": {"domain": ["high", "low"], "range": ["#E64B35", "#4DBBD5"]}, "legend": null}
                  }},
                {"data": {"name": "lineB"}, "mark": {"type": "circle", "size": 40, "opacity": 1},
                  "encoding": {
                    "x": {"field": "x", "type": "quantitative", "axis": {"title": "niacin, mg/day", "values": [10, 15, 20, 25, 30, 35], "titleFontSize": 18, "titlePadding": 4, "titleX": 230}},
                    "y": {"field": "y", "type": "quantitative", "axis": {"title": "Standardized Log-Rank Statistic", "values": [0, 1, 2, 3, 4, 5], "titleFontSize": 17.5, "titlePadding": 5}},
                    "fill": {"field": "grps", "type": "nominal", "scale": {"domain": ["high", "low"], "range": ["#E64B35", "#4DBBD5"]},
                      "legend": {"title": "grps", "orient": "none", "legendX": 452, "legendY": 54, "titleFontSize": 18, "titleFontWeight": "normal", "titleColor": "black", "labelFontSize": 14, "labelColor": "black", "symbolSize": 45, "symbolType": "circle", "symbolOffset": 10, "labelOffset": 16, "rowPadding": 14, "titlePadding": 14}}
                  }},
                {"data": {"name": "cutB"}, "mark": {"type": "text", "fontSize": 19, "align": "center", "baseline": "middle", "color": "black"},
                  "encoding": {
                    "x": {"field": "x", "type": "quantitative", "axis": {"title": "niacin, mg/day", "values": [10, 15, 20, 25, 30, 35], "titleFontSize": 18, "titlePadding": 4, "titleX": 230}},
                    "y": {"field": "y", "type": "quantitative", "axis": {"title": "Standardized Log-Rank Statistic", "values": [0, 1, 2, 3, 4, 5], "titleFontSize": 17.5, "titlePadding": 5}},
                    "text": {"field": "label"}}}
              ]
            }
          ]
        }
      ]
    }
  ]
}
